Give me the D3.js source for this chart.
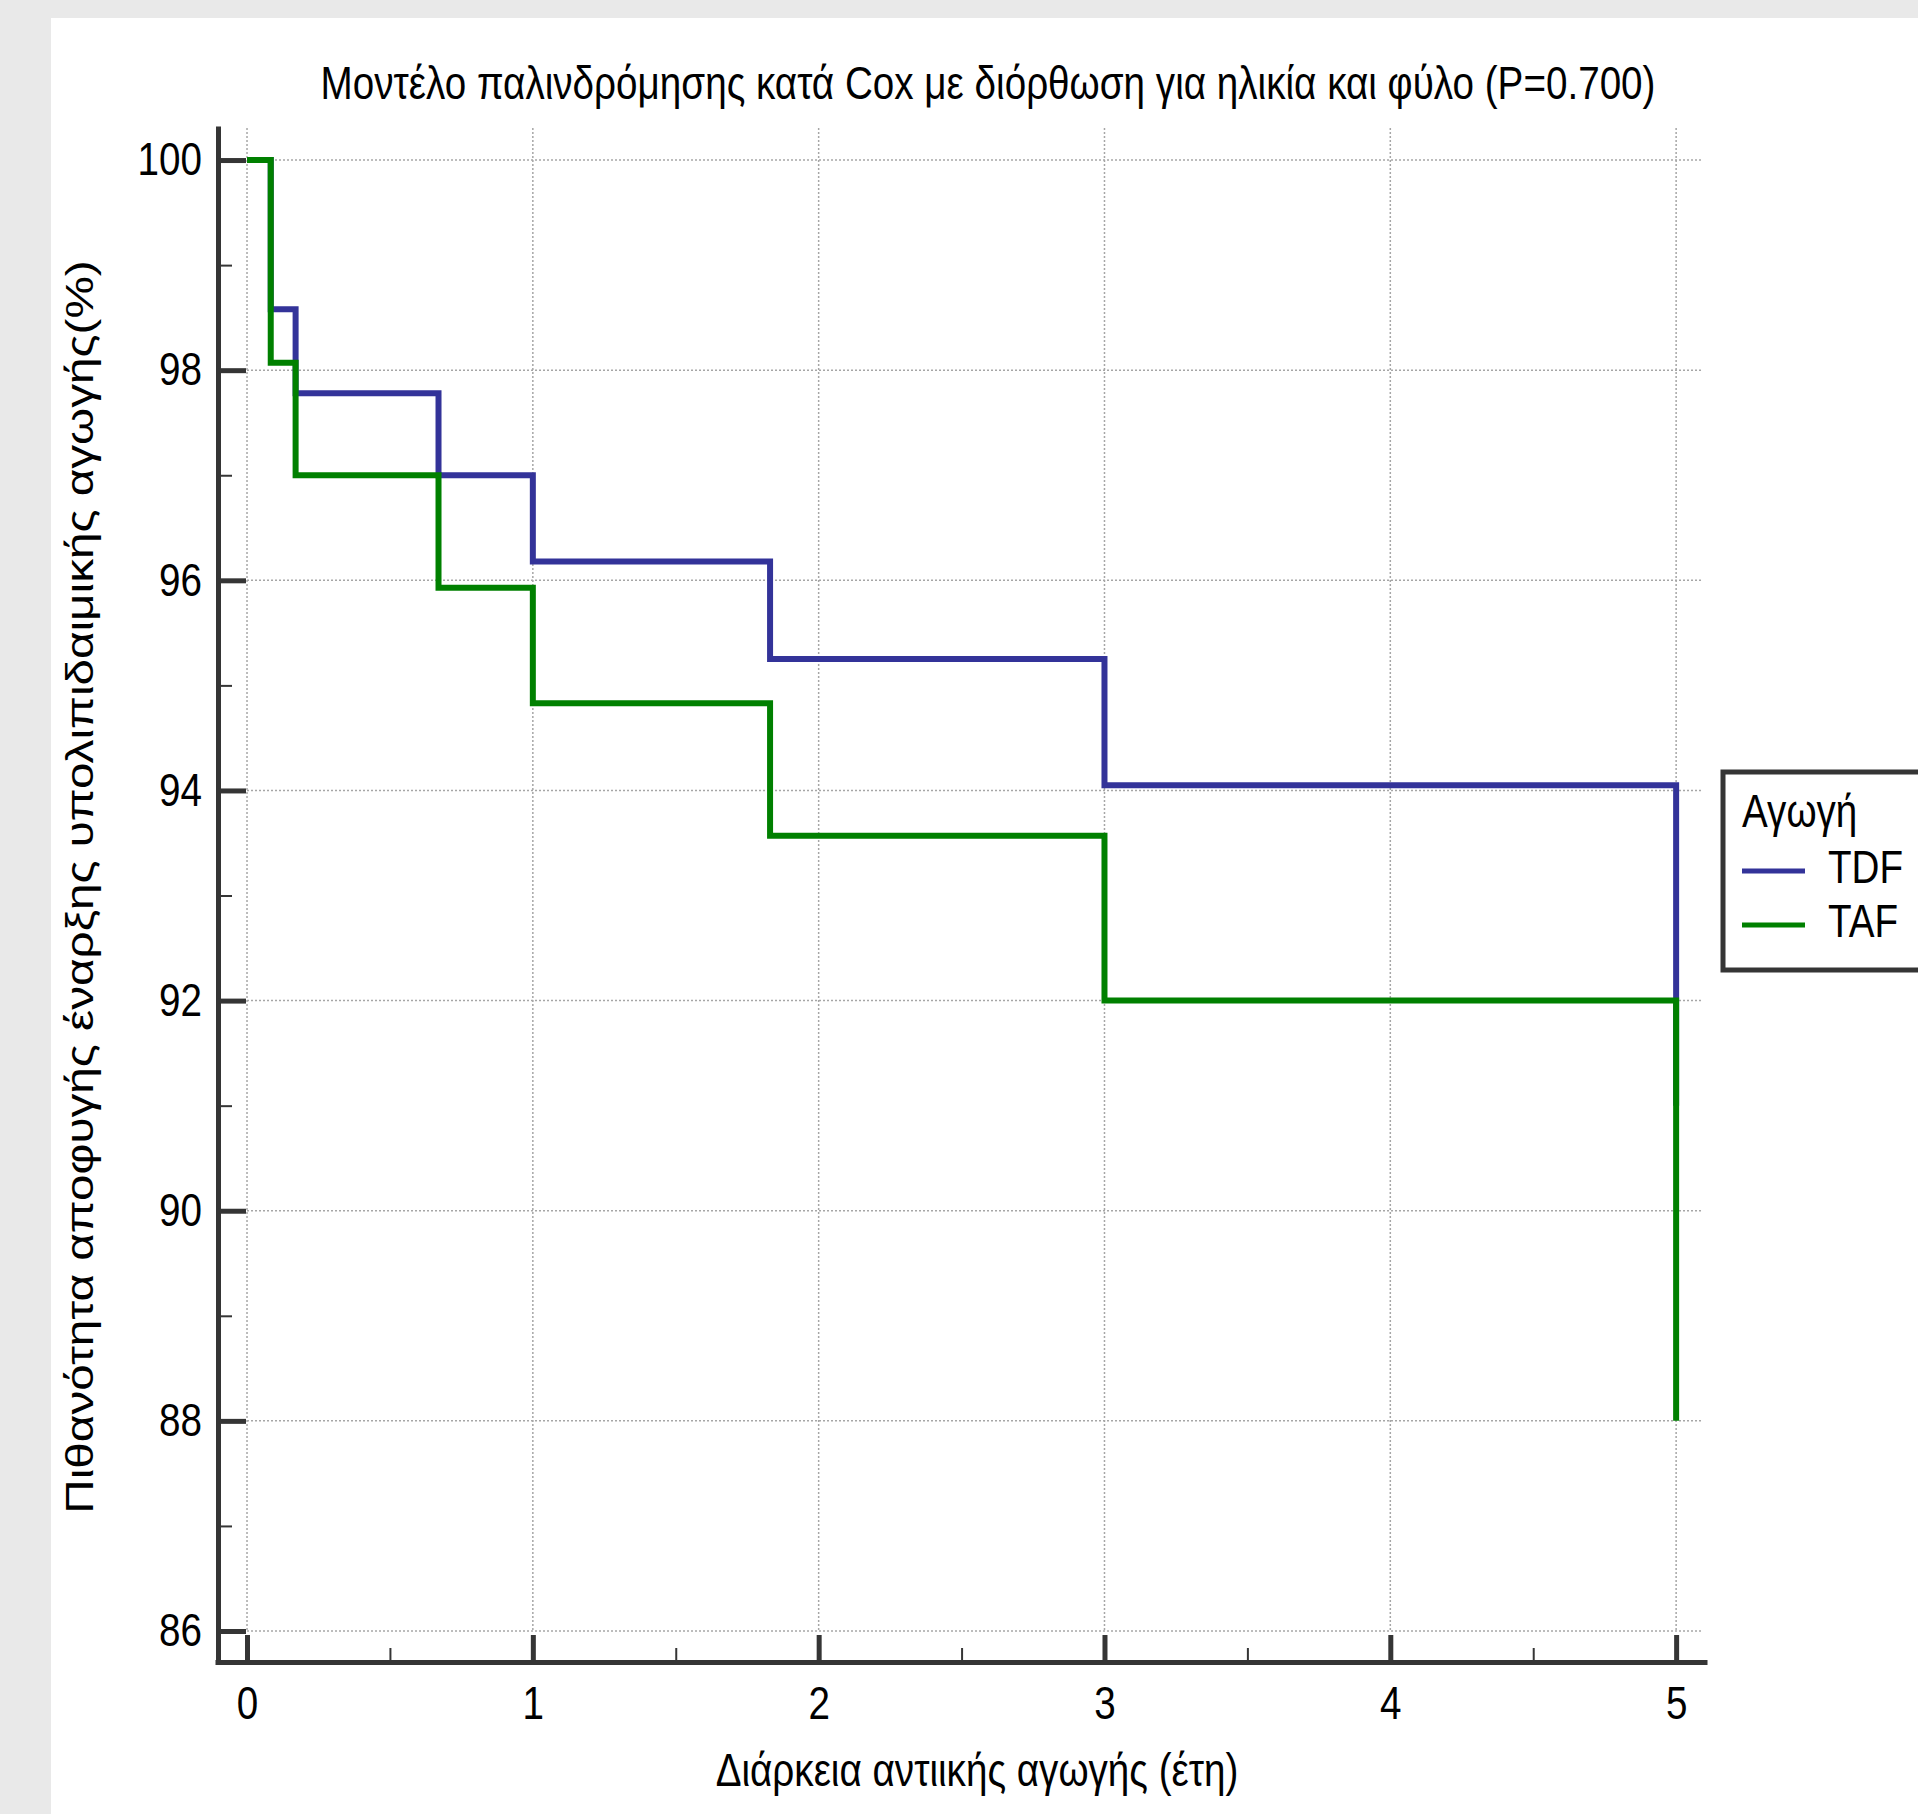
<!DOCTYPE html>
<html>
<head>
<meta charset="utf-8">
<script src="https://cdn.jsdelivr.net/npm/d3@7"></script>
<style>
  html, body { margin: 0; padding: 0; background: #e9e9e9; }
  svg { display: block; }
</style>
</head>
<body>
<svg id="chart"></svg>
<script>
/* ═══ Cox regression survival curves — TDF vs TAF ═══ */

const TITLE = 'Μοντέλο παλινδρόμησης κατά Cox με διόρθωση για ηλικία και φύλο (P=0.700)';
const X_LABEL = 'Διάρκεια αντιικής αγωγής (έτη)';
const Y_LABEL = 'Πιθανότητα αποφυγής έναρξης υπολιπιδαιμικής αγωγής(%)';
const LEGEND_TITLE = 'Αγωγή';
const SERIES_NAMES = ['TDF', 'TAF'];

// step times (years) shared by both curves
const TIMES = [0, 0.083, 0.17, 0.67, 1.0, 1.83, 3.0, 5.0];
const TDF_VALUES = [100, 98.58, 97.78, 97.0, 96.18, 95.25, 94.05, 91.0];
const TAF_VALUES = [100, 98.07, 97.0, 95.93, 94.83, 93.57, 92.0, 88.0];

const X_TICKS = [0, 1, 2, 3, 4, 5];
const X_MINOR = [0.5, 1.5, 2.5, 3.5, 4.5];
const Y_TICKS = [86, 88, 90, 92, 94, 96, 98, 100];
const Y_MINOR = [87, 89, 91, 93, 95, 97, 99];

const COLORS = ['#333399', '#008000'];
const AXIS = '#353535';
const FONT = '"Liberation Sans", Arial, sans-serif';
const FS = 46;
const SX = 0.84;   // text in the original is horizontally condensed

const W = 1918, H = 1814;

const svg = d3.select('#chart').attr('width', W).attr('height', H);

// white panel on grey page
svg.append('rect').attr('x', 51).attr('y', 18)
  .attr('width', W - 51).attr('height', H - 18).attr('fill', '#fff');

const x = d3.scaleLinear().domain([-0.112, 5.108]).range([215, 1707]);
const y = d3.scaleLinear().domain([85.705, 100.324]).range([1662, 126]);

// ── Grid (dotted) ──
const grid = svg.append('g')
  .attr('stroke', '#a6a6a6').attr('stroke-width', 1.5).attr('stroke-dasharray', '2,2');
grid.append('g').selectAll('line').data(Y_TICKS).join('line')
  .attr('x1', x(0)).attr('x2', x(5.094))
  .attr('y1', d => y(d)).attr('y2', d => y(d));
grid.append('g').selectAll('line').data(X_TICKS).join('line')
  .attr('x1', d => x(d)).attr('x2', d => x(d))
  .attr('y1', y.range()[1] + 2).attr('y2', y(86));

// ── Curves ──
const line = d3.line()
  .x(d => x(d[0])).y(d => y(d[1]))
  .curve(d3.curveStepAfter);

[TDF_VALUES, TAF_VALUES].forEach((vals, i) => {
  svg.append('path')
    .datum(TIMES.map((t, k) => [t, vals[k]]))
    .attr('d', line)
    .attr('fill', 'none')
    .attr('stroke', COLORS[i])
    .attr('stroke-width', 6)
    .attr('stroke-linejoin', 'miter');
});

// ── Axes ──
function styleText(sel) {
  sel.attr('font-size', FS).attr('font-family', FONT).attr('fill', '#000')
    .attr('transform', `scale(${SX},1)`);
}

const yMinor = svg.append('g').attr('transform', 'translate(218,0)')
  .call(d3.axisLeft(y).tickValues(Y_MINOR).tickSizeInner(-14).tickSizeOuter(0).tickFormat(() => ''));
yMinor.select('.domain').remove();
yMinor.selectAll('.tick line').attr('stroke', AXIS).attr('stroke-width', 2);

const yAxis = svg.append('g').attr('transform', 'translate(218,0)')
  .call(d3.axisLeft(y).tickValues(Y_TICKS).tickSizeInner(-28).tickSizeOuter(0).tickPadding(19));
yAxis.select('.domain').attr('stroke', AXIS).attr('stroke-width', 5);
yAxis.selectAll('.tick line').attr('stroke', AXIS).attr('stroke-width', 5);
styleText(yAxis.selectAll('.tick text'));

const xMinor = svg.append('g').attr('transform', 'translate(0,1662)')
  .call(d3.axisBottom(x).tickValues(X_MINOR).tickSizeInner(-14).tickSizeOuter(0).tickFormat(() => ''));
xMinor.select('.domain').remove();
xMinor.selectAll('.tick line').attr('stroke', AXIS).attr('stroke-width', 2);

const xAxis = svg.append('g').attr('transform', 'translate(0,1662)')
  .call(d3.axisBottom(x).tickValues(X_TICKS).tickFormat(d3.format('d'))
    .tickSizeInner(-27).tickSizeOuter(0).tickPadding(24));
xAxis.select('.domain').attr('stroke', AXIS).attr('stroke-width', 5);
xAxis.selectAll('.tick line').attr('stroke', AXIS).attr('stroke-width', 5);
styleText(xAxis.selectAll('.tick text'));

// ── Titles ──
function addText(txt, tx, ty, anchor, rotate, sy) {
  svg.append('g')
    .attr('transform', `translate(${tx},${ty}) scale(${SX},${sy || 1})` + (rotate ? ` rotate(${rotate})` : ''))
    .append('text')
    .attr('text-anchor', anchor)
    .attr('font-size', FS).attr('font-family', FONT).attr('fill', '#000')
    .text(txt);
}

addText(TITLE, 988, 99, 'middle');
addText(X_LABEL, 977, 1786, 'middle');
addText(Y_LABEL, 93, 887, 'middle', -90, 1.036);

// ── Legend ──
const lg = svg.append('g');
lg.append('rect').attr('x', 1723).attr('y', 772).attr('width', 240).attr('height', 198)
  .attr('fill', '#fff').attr('stroke', AXIS).attr('stroke-width', 5);
addText(LEGEND_TITLE, 1742, 827, 'start');
SERIES_NAMES.forEach((name, i) => {
  const ly = 871 + i * 54;
  lg.append('line').attr('x1', 1742).attr('x2', 1805).attr('y1', ly).attr('y2', ly)
    .attr('stroke', COLORS[i]).attr('stroke-width', 5);
  addText(name, 1828, ly + 12, 'start');
});
</script>
</body>
</html>
